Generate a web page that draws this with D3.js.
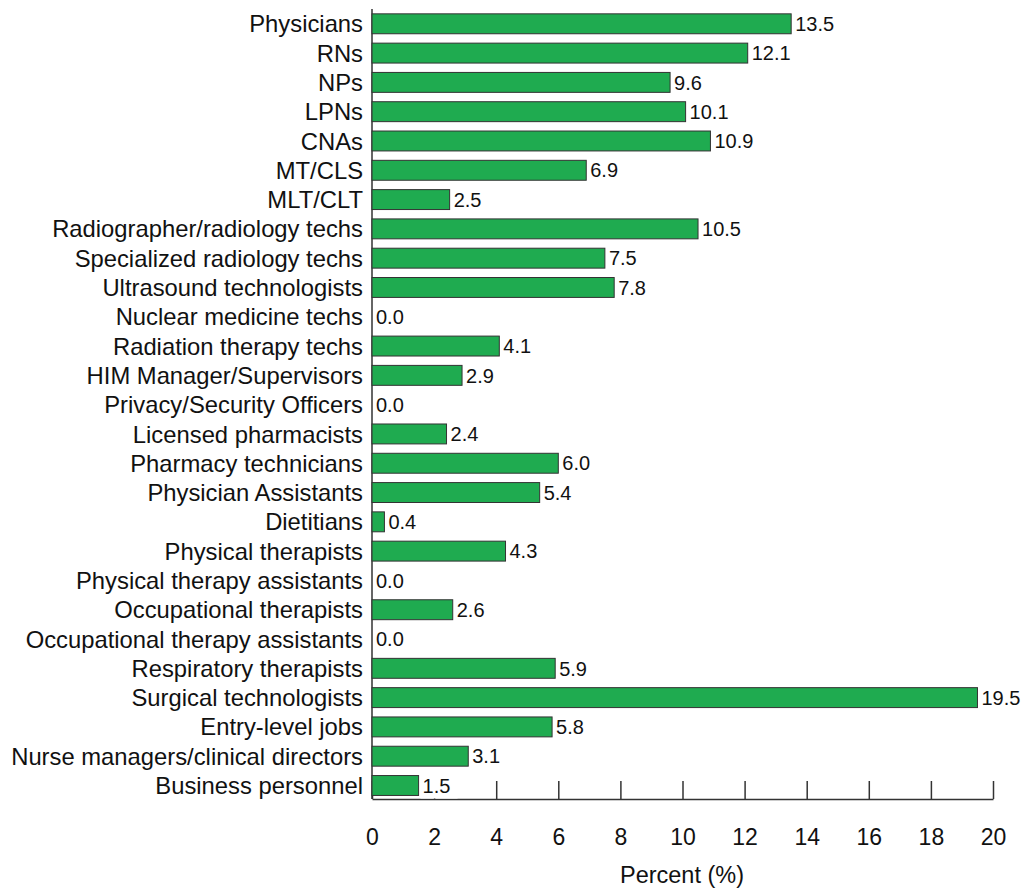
<!DOCTYPE html>
<html>
<head>
<meta charset="utf-8">
<script src="https://cdn.jsdelivr.net/npm/d3@7"></script>
<style>
  body { margin: 0; background: #fff; }
  svg { display: block; font-family: "Liberation Sans", Arial, sans-serif; }
</style>
</head>
<body>
<svg id="chart"></svg>
<script>
const categories = [
    "Physicians", "RNs", "NPs", "LPNs", "CNAs", "MT/CLS", "MLT/CLT",
    "Radiographer/radiology techs", "Specialized radiology techs", "Ultrasound technologists",
    "Nuclear medicine techs", "Radiation therapy techs", "HIM Manager/Supervisors",
    "Privacy/Security Officers", "Licensed pharmacists", "Pharmacy technicians",
    "Physician Assistants", "Dietitians", "Physical therapists", "Physical therapy assistants",
    "Occupational therapists", "Occupational therapy assistants", "Respiratory therapists",
    "Surgical technologists", "Entry-level jobs", "Nurse managers/clinical directors",
    "Business personnel"
];
const values = [
    13.5, 12.1, 9.6, 10.1, 10.9, 6.9, 2.5,
    10.5, 7.5, 7.8,
    0.0, 4.1, 2.9,
    0.0, 2.4, 6.0,
    5.4, 0.4, 4.3, 0.0,
    2.6, 0.0, 5.9,
    19.5, 5.8, 3.1,
    1.5
];
const xTicks = [0, 2, 4, 6, 8, 10, 12, 14, 16, 18, 20];
const xTitle = "Percent (%)";

const data = categories.map((c, i) => ({ name: c, value: values[i] }));

const width = 1025, height = 888;
const left = 372, right = 993, axisY = 799;

const svg = d3.select("#chart")
    .attr("width", width)
    .attr("height", height);

const x = d3.scaleLinear()
    .domain([0, 20])
    .range([left, right]);

const y = d3.scaleBand()
    .domain(categories)
    .range([9.15, 800.15])
    .paddingInner(0.32)
    .paddingOuter(0.16);

// bottom axis, ticks pointing up
const xAxis = svg.append("g")
    .attr("transform", `translate(0,${axisY})`)
    .call(d3.axisBottom(x).tickValues(xTicks).tickSizeInner(-18).tickSizeOuter(0).tickPadding(30));
xAxis.attr("font-size", null).attr("font-family", null);
xAxis.select(".domain").attr("stroke", "#333").attr("stroke-width", 1.5);
xAxis.selectAll(".tick line").attr("stroke", "#333").attr("stroke-width", 1.5);
xAxis.selectAll(".tick text")
    .attr("fill", "#111")
    .style("font-size", "23px");

// left axis line
svg.append("line")
    .attr("x1", x(0)).attr("x2", x(0))
    .attr("y1", 9).attr("y2", axisY)
    .attr("stroke", "#333")
    .attr("stroke-width", 1.5);

// category labels
svg.append("g").selectAll("text")
    .data(data)
    .enter().append("text")
    .attr("x", left - 9)
    .attr("y", d => y(d.name) + y.bandwidth() / 2)
    .attr("dy", "0.36em")
    .attr("text-anchor", "end")
    .attr("fill", "#111")
    .style("font-size", "23.8px")
    .text(d => d.name);

// bars
svg.append("g").selectAll("rect")
    .data(data.filter(d => d.value > 0))
    .enter().append("rect")
    .attr("x", x(0))
    .attr("y", d => y(d.name))
    .attr("width", d => x(d.value) - x(0))
    .attr("height", y.bandwidth())
    .attr("fill", "#1fab50")
    .attr("stroke", "#333")
    .attr("stroke-width", 1);

// value labels with white background
const labels = svg.append("g").selectAll("g")
    .data(data)
    .enter().append("g");

labels.append("rect")
    .attr("x", d => x(d.value) + 2)
    .attr("y", d => y(d.name))
    .attr("width", 37)
    .attr("height", y.bandwidth() + 3)
    .attr("fill", "#fff");

labels.append("text")
    .attr("x", d => x(d.value) + 4)
    .attr("y", d => y(d.name) + y.bandwidth() / 2)
    .attr("dy", "0.36em")
    .attr("fill", "#111")
    .style("font-size", "20px")
    .text(d => d.value.toFixed(1));

// axis title
svg.append("text")
    .attr("x", 682)
    .attr("y", 883)
    .attr("text-anchor", "middle")
    .attr("fill", "#111")
    .style("font-size", "23.5px")
    .text(xTitle);
</script>
</body>
</html>
